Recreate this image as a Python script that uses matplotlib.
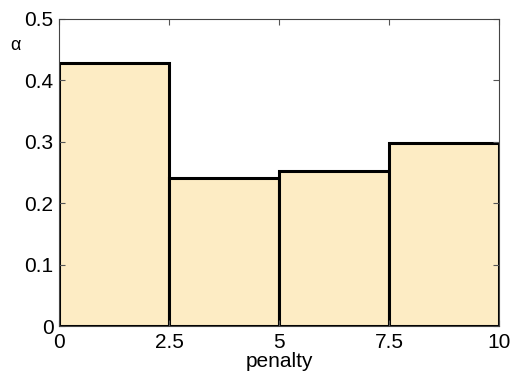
import matplotlib
matplotlib.use("Agg")
import matplotlib.pyplot as plt

edges = [0, 2.5, 5, 7.5, 10]
values = [0.428, 0.241, 0.253, 0.2975]
xticks = [0, 2.5, 5, 7.5, 10]
xticklabels = ["0", "2.5", "5", "7.5", "10"]
yticks = [0, 0.1, 0.2, 0.3, 0.4, 0.5]
yticklabels = ["0", "0.1", "0.2", "0.3", "0.4", "0.5"]

plt.rcParams['font.family'] = ['Liberation Sans', 'DejaVu Sans']

fig = plt.figure(figsize=(5.12, 3.72), dpi=100)
ax = fig.add_axes([59/512, 1-326/372, 440/512, 307/372])

widths = [edges[i+1]-edges[i] for i in range(len(values))]
ax.bar(edges[:-1], values, width=widths, align='edge', color='#FDECC4',
       edgecolor='black', linewidth=2.2)

ax.set_xlim(0, 10)
ax.set_ylim(0, 0.5)
ax.set_xticks(xticks)
ax.set_xticklabels(xticklabels)
ax.set_yticks(yticks)
ax.set_yticklabels(yticklabels)
ax.tick_params(direction='in', top=True, right=True, labelsize=15, length=4,
               width=0.8, color='#555555')
ax.tick_params(axis='x', pad=5)
ax.tick_params(axis='y', pad=4)
for s in ax.spines.values():
    s.set_color('#444444')
    s.set_linewidth(0.8)
ax.set_xlabel('penalty', fontsize=15, labelpad=0.3)
fig.text(15/512, 1-45/372, 'α', fontsize=13, ha='center', va='center')

fig.savefig('out.png', dpi=100)
